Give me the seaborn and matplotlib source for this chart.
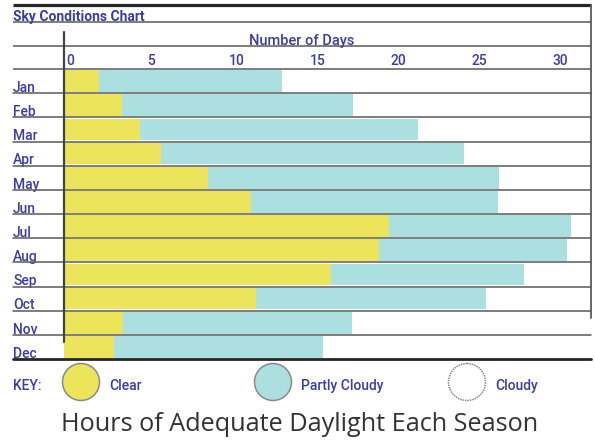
import matplotlib
matplotlib.use("Agg")
import matplotlib.pyplot as plt
import matplotlib.transforms as mtransforms
from matplotlib.lines import Line2D
from matplotlib.patches import Ellipse
import pandas as pd
import seaborn as sns

# Sky conditions per month (days)
months = ["Jan", "Feb", "Mar", "Apr", "May", "Jun",
          "Jul", "Aug", "Sep", "Oct", "Nov", "Dec"]
clear_days = [2.2, 3.6, 4.7, 6.0, 8.9, 11.6, 20.1, 19.5, 16.5, 11.9, 3.7, 3.1]
partly_cloudy_days = [11.3, 14.3, 17.2, 18.7, 18.0, 15.2, 11.2, 11.6, 11.9, 14.2, 14.1, 12.9]
day_ticks = [0, 5, 10, 15, 20, 25, 30]
key_labels = ["Clear", "Partly Cloudy", "Cloudy"]

YELLOW = "#ece55c"
AQUA = "#abdfe0"
BLUE = "#3c3ca6"
GRID = "#5a5a5a"
DARK = "#262626"
LABEL_FONT = ["Roboto", "DejaVu Sans"]

df = pd.DataFrame({
    "month": months,
    "clear": clear_days,
    "partly": partly_cloudy_days,
})
df["total"] = df["clear"] + df["partly"]

sns.set_theme(style="white")
plt.rcParams["font.family"] = ["Roboto", "DejaVu Sans"]

W, H = 595, 445
fig = plt.figure(figsize=(W / 100, H / 100), dpi=100)
fig.patch.set_facecolor("white")

# plot area in pixels
left_px, right_px, top_px, bottom_px = 63.5, 591, 69, 359
px_per_day = 16.2
ax = fig.add_axes([left_px / W, 1 - bottom_px / H,
                   (right_px - left_px) / W, (bottom_px - top_px) / H])

sns.barplot(data=df, x="total", y="month", orient="h", color=AQUA,
            saturation=1, width=0.9, linewidth=0, ax=ax)
sns.barplot(data=df, x="clear", y="month", orient="h", color=YELLOW,
            saturation=1, width=0.9, linewidth=0, ax=ax)

ax.set_xlim(0, (right_px - left_px) / px_per_day)
ax.set_ylim(len(months) - 0.5, -0.5)
ax.set_xlabel("")
ax.set_ylabel("")
ax.set_yticks([])
for s in ax.spines.values():
    s.set_visible(False)
ax.set_facecolor("none")

# day ticks on top, labels sitting on the header line
ax.xaxis.tick_top()
ax.set_xticks(day_ticks)
ax.set_xticklabels([str(t) for t in day_ticks], color=BLUE, fontsize=10,
                   family=LABEL_FONT, fontweight="medium", ha="left")
ax.tick_params(axis="x", length=0, pad=1)
shift = mtransforms.ScaledTranslation(3 / 100, 0, fig.dpi_scale_trans)
for lbl in ax.get_xticklabels():
    lbl.set_transform(lbl.get_transform() + shift)

# row separators and month names (x in figure, y in data)
blend = mtransforms.blended_transform_factory(fig.transFigure, ax.transData)
x0f, x1f = 13 / W, right_px / W
for i in range(len(months)):
    last = i == len(months) - 1
    ax.add_line(Line2D([x0f, x1f], [i + 0.5, i + 0.5], transform=blend,
                       color=DARK if last else GRID,
                       lw=2.0 if last else 1.1,
                       clip_on=False, zorder=5))
    ax.text(x0f, i + 0.45, months[i], transform=blend, color=BLUE,
            fontsize=10, family=LABEL_FONT, fontweight="medium",
            ha="left", va="baseline", clip_on=False)

# overlay in pixel coordinates for the frame, header and key
ov = fig.add_axes([0, 0, 1, 1], zorder=10)
ov.set_xlim(0, W)
ov.set_ylim(H, 0)
ov.axis("off")
ov.patch.set_alpha(0)

ov.plot([13, right_px], [5, 5], color=DARK, lw=2.3, solid_capstyle="butt")
for y in (22, 46, 69):
    ov.plot([13, right_px], [y, y], color=GRID, lw=1.1, solid_capstyle="butt")
ov.plot([left_px, left_px], [32, 342], color="#444444", lw=1.6)
ov.plot([right_px, right_px], [5, 318], color=GRID, lw=1.3)

ov.text(13, 20.5, "Sky Conditions Chart", color=BLUE, fontsize=10,
        fontweight="bold", family=LABEL_FONT, ha="left", va="baseline")
ov.text(302, 44.5, "Number of Days", color=BLUE, fontsize=10.5,
        family=LABEL_FONT, fontweight="medium", ha="center", va="baseline")

# key
ov.text(13, 390, "KEY:", color=BLUE, fontsize=10, family=LABEL_FONT,
        fontweight="medium", ha="left", va="baseline")
key_faces = [YELLOW, AQUA, "white"]
key_x = [81, 273, 467]
for xc, face, name in zip(key_x, key_faces, key_labels):
    ov.add_patch(Ellipse((xc, 382), 37, 37, facecolor=face,
                         edgecolor="#8a8a8a", lw=1.1,
                         linestyle="-" if face != "white" else (0, (1, 0.6))))
    ov.text(xc + 28, 390, name, color=BLUE, fontsize=10, family=LABEL_FONT,
            fontweight="medium", ha="left", va="baseline")

ov.text(300, 431, "Hours of Adequate Daylight Each Season", color="#333333",
        fontsize=18.2, family=["Open Sans", "DejaVu Sans"], ha="center",
        va="baseline")

fig.savefig("out.png", dpi=100, facecolor="white")
